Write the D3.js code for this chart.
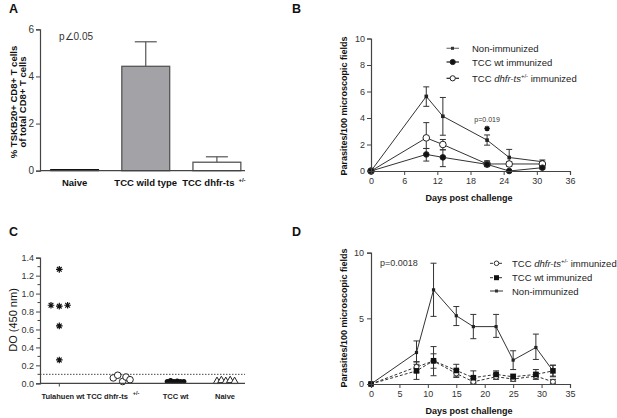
<!DOCTYPE html>
<html><head><meta charset="utf-8">
<script src="https://cdn.jsdelivr.net/npm/d3@7"></script>
<style>
body{margin:0;background:#fff;}
text{font-family:Arial,"Liberation Sans",sans-serif;}
</style></head>
<body><svg id="c" width="617" height="418"></svg>
<script>
// ---------- Panel A data ----------
const aCats = ["Naive","TCC wild type","TCC dhfr-ts"];
const aVals = [0.05, 4.43, 0.36];
const aErr  = [0.0, 1.04, 0.23];
const aTicks = [0,2,4,6];

// ---------- Panel B data ----------
const bDays = [0,10,13,21,25,31];
const bNon  = [0,5.63,4.13,2.33,1.02,0.7];
const bNonLo= [0,4.88,2.7,1.95,0.45,0.6];
const bNonHi= [0,6.35,5.55,2.72,1.63,0.83];
const bWt   = [0,1.25,1.03,0.5,0.0,0.25];
const bWtLo = [0,0.75,0.33,0.35,0.0,0.15];
const bWtHi = [0,1.7,1.6,0.65,0.0,0.35];
const bDh   = [0,2.5,2.0,0.53,0.53,0.53];
const bDhLo = [0,1.7,1.6,0.33,0.35,0.4];
const bDhHi = [0,3.65,2.38,0.77,0.7,0.65];
const bTicksX = [0,6,12,18,24,30,36];
const bTicksY = [0,2,4,6,8,10];

// ---------- Panel C data ----------
const cCats = ["Tulahuen wt","TCC dhfr-ts","TCC wt","Naive"];
const cTul = [1.27,0.87,0.86,0.87,0.64,0.26];
const cTulOff = [0,-1,0,1,0,0];
const cDh  = [0.06,0.09,0.02,0.07,0.04];
const cWt  = [0.02,0.03,0.02,0.025,0.02,0.02];
const cNa  = [0.01,0.02,0.01,0.02,0.01];
const cTicks = [0,0.2,0.4,0.6,0.8,1.0,1.2,1.4];
const cCut = 0.1;

// ---------- Panel D data ----------
const dDays = [0,8,11,15,18,22,25,29,32];
const dNon  = [0,2.4,7.17,5.2,4.37,4.37,1.82,2.78,1.0];
const dNonLo= [0,1.5,5.15,4.45,3.45,3.55,1.1,1.87,0.55];
const dNonHi= [0,3.28,9.2,5.9,5.3,5.3,2.53,3.8,1.43];
const dWt   = [0,1.0,1.77,1.03,0.48,0.73,0.55,0.73,1.0];
const dWtLo = [0,0.35,0.63,0.6,0.1,0.45,0.3,0.45,0.6];
const dWtHi = [0,1.68,2.85,1.5,1.0,1.0,0.76,1.1,1.43];
const dDh   = [0,1.3,1.75,0.8,0.17,0.55,0.38,0.6,0.17];
const dDhLo = [0,0.9,1.2,0.5,0.05,0.35,0.2,0.35,0.05];
const dDhHi = [0,1.7,2.3,1.1,0.4,0.8,0.6,0.85,0.35];
const dTicksX = [0,5,10,15,20,25,30,35];
const dTicksY = [0,5,10];

const svg = d3.select("#c");
const AX = "#444";

function styleAxis(g, fs){
  g.selectAll("path").attr("stroke",AX).attr("stroke-width",1.2);
  g.selectAll("line").attr("stroke",AX).attr("stroke-width",1);
  g.selectAll("text").attr("font-size",fs||9).attr("fill","#333");
}
function errBar(g, x, lo, hi, cap){
  g.append("line").attr("x1",x).attr("x2",x).attr("y1",lo).attr("y2",hi).attr("stroke","#333").attr("stroke-width",1);
  g.append("line").attr("x1",x-cap).attr("x2",x+cap).attr("y1",hi).attr("y2",hi).attr("stroke","#333").attr("stroke-width",1);
  g.append("line").attr("x1",x-cap).attr("x2",x+cap).attr("y1",lo).attr("y2",lo).attr("stroke","#333").attr("stroke-width",1);
}
function asterisk(r){
  let p="";
  for(let k=0;k<4;k++){const a=k*Math.PI/4; const dx=r*Math.cos(a), dy=r*Math.sin(a); p+=`M${-dx},${-dy}L${dx},${dy}`;}
  return p;
}
function letter(t,x,y){ svg.append("text").attr("x",x).attr("y",y).attr("font-size",12.5).attr("font-weight","bold").attr("fill","#111").text(t); }
const fmtInt = d3.format("d");

// ================= Panel A =================
(function(){
  const x = d3.scaleBand().domain(aCats).range([40,251.5]).paddingInner(0.327).paddingOuter(0.15);
  const y = d3.scaleLinear().domain([0,6]).range([170.7,29.3]);
  const g = svg.append("g");
  const fills = ["#111","#a3a3a7","#fff"];
  aCats.forEach((c,i)=>{
    if(aErr[i]>0){
      const cx = x(c)+x.bandwidth()/2;
      g.append("line").attr("x1",cx).attr("x2",cx).attr("y1",y(aVals[i])).attr("y2",y(aVals[i]+aErr[i])).attr("stroke","#555").attr("stroke-width",1.2);
      g.append("line").attr("x1",cx-11).attr("x2",cx+11).attr("y1",y(aVals[i]+aErr[i])).attr("y2",y(aVals[i]+aErr[i])).attr("stroke","#555").attr("stroke-width",1.2);
    }
    g.append("rect").attr("x",x(c)).attr("width",x.bandwidth())
      .attr("y",y(aVals[i])).attr("height",y(0)-y(aVals[i]))
      .attr("fill",fills[i]).attr("stroke",i==0?"#111":"#555").attr("stroke-width",i==0?1:1.3);
  });
  const ya = svg.append("g").attr("transform","translate(40,0)").call(d3.axisLeft(y).tickValues(aTicks).tickSize(4).tickPadding(2).tickFormat(fmtInt));
  styleAxis(ya,10);
  svg.append("line").attr("x1",40).attr("x2",245).attr("y1",170.7).attr("y2",170.7).attr("stroke",AX).attr("stroke-width",1.2);
  aCats.forEach((c,i)=>{
    const t = svg.append("text").attr("x",x(c)+x.bandwidth()/2-(i==2?3:0)).attr("y",185.5).attr("text-anchor","middle")
      .attr("font-size",9.5).attr("font-weight","bold").attr("fill","#111").text(c);
    if(i==2){ t.append("tspan").attr("dx",4).attr("dy",-4).attr("font-size",6).text("+/-"); }
  });
  svg.append("text").attr("transform","translate(16.5,102) rotate(-90)").attr("text-anchor","middle")
    .attr("font-size",9.5).attr("font-weight","bold").attr("fill","#111").text("% TSKB20+ CD8+ T cells");
  svg.append("text").attr("transform","translate(25.5,102) rotate(-90)").attr("text-anchor","middle")
    .attr("font-size",9.5).attr("font-weight","bold").attr("fill","#111").text("of total CD8+ T cells");
  svg.append("text").attr("x",59).attr("y",40).attr("font-size",10).attr("fill","#333").text("p\u22200.05");
  letter("A",9,13);
})();

// ================= Panel B =================
(function(){
  const x = d3.scaleLinear().domain([0,36]).range([371,570]);
  const y = d3.scaleLinear().domain([0,10]).range([171,38.5]);
  const g = svg.append("g");
  const series = [
    {v:bNon,lo:bNonLo,hi:bNonHi,m:"sq"},
    {v:bDh,lo:bDhLo,hi:bDhHi,m:"open"},
    {v:bWt,lo:bWtLo,hi:bWtHi,m:"fill"}
  ];
  series.forEach(s=>{
    bDays.forEach((d,i)=>{ if(s.hi[i]-s.lo[i]>0.05) errBar(g,x(d),y(s.lo[i]),y(s.hi[i]),3); });
  });
  const line = d3.line().x((d,i)=>x(bDays[i])).y(d=>y(d));
  series.forEach(s=>{
    g.append("path").attr("d",line(s.v)).attr("fill","none").attr("stroke","#333").attr("stroke-width",1);
  });
  series.forEach(s=>{
    bDays.forEach((d,i)=>{
      if(s.m=="sq") g.append("rect").attr("x",x(d)-1.8).attr("y",y(s.v[i])-1.8).attr("width",3.6).attr("height",3.6).attr("fill","#222");
      else g.append("circle").attr("cx",x(d)).attr("cy",y(s.v[i])).attr("r",s.m=="open"?3.3:2.8)
        .attr("fill",s.m=="open"?"#fff":"#111").attr("stroke","#222").attr("stroke-width",1);
    });
  });
  const ya = svg.append("g").attr("transform","translate(371,0)").call(d3.axisLeft(y).tickValues(bTicksY).tickSize(4).tickPadding(2).tickFormat(fmtInt));
  styleAxis(ya);
  const xa = svg.append("g").attr("transform","translate(0,171)").call(d3.axisBottom(x).tickValues(bTicksX).tickSize(4).tickPadding(3).tickFormat(fmtInt));
  styleAxis(xa);
  svg.append("text").attr("x",469).attr("y",200.5).attr("text-anchor","middle").attr("font-size",9).attr("font-weight","bold").attr("fill","#111").text("Days post challenge");
  svg.append("text").attr("transform","translate(347,106) rotate(-90)").attr("text-anchor","middle").attr("font-size",9).attr("font-weight","bold").attr("fill","#111").text("Parasites/100 microscopic fields");
  svg.append("text").attr("x",x(21)).attr("y",122).attr("text-anchor","middle").attr("font-size",7).attr("fill","#333").text("p=0.019");
  g.append("path").attr("d",asterisk(2.8)).attr("transform",`translate(${x(21)},128.5)`).attr("stroke","#111").attr("stroke-width",1.3);
  // legend
  const leg = [["Non-immunized","sq"],["TCC wt immunized","fill"],["TCC dhfr-ts","open"]];
  leg.forEach((l,i)=>{
    const yy = [48.3,62,78.3][i];
    g.append("line").attr("x1",446.5).attr("x2",459).attr("y1",yy).attr("y2",yy).attr("stroke",i==0?"#777":"#222").attr("stroke-width",1.2);
    if(l[1]=="sq") g.append("rect").attr("x",451).attr("y",yy-1.5).attr("width",3).attr("height",3).attr("fill","#333");
    else g.append("circle").attr("cx",452.7).attr("cy",yy).attr("r",2.6).attr("fill",l[1]=="open"?"#fff":"#111").attr("stroke","#222");
    const t = svg.append("text").attr("x",472).attr("y",yy+3.5).attr("font-size",9.5).attr("fill","#222");
    if(i<2) t.text(l[0]);
    else { t.text("TCC "); t.append("tspan").attr("font-style","italic").text("dhfr-ts"); t.append("tspan").attr("dy",-4).attr("font-size",6).text("+/-"); t.append("tspan").attr("dy",4).text(" immunized"); }
  });
  letter("B",292,13);
})();

// ================= Panel C =================
(function(){
  const x = d3.scaleOrdinal().domain(cCats).range([59.3,121.5,175.3,225.5]);
  const y = d3.scaleLinear().domain([0,1.4]).range([383.3,257.7]);
  const g = svg.append("g");
  g.append("line").attr("x1",40).attr("x2",245).attr("y1",y(cCut)).attr("y2",y(cCut)).attr("stroke","#333").attr("stroke-width",0.9).attr("stroke-dasharray","1.5,1.5");
  const ya = svg.append("g").attr("transform","translate(40,0)").call(d3.axisLeft(y).tickValues(cTicks).tickSize(4).tickPadding(2).tickFormat(d3.format(".1f")));
  styleAxis(ya);
  d3.range(0.1,1.41,0.2).forEach(m=> svg.append("line").attr("x1",37.5).attr("x2",40).attr("y1",y(m)).attr("y2",y(m)).attr("stroke",AX));
  svg.append("line").attr("x1",40).attr("x2",245).attr("y1",383.3).attr("y2",383.3).attr("stroke",AX).attr("stroke-width",1.2);
  svg.append("line").attr("x1",x(cCats[0])).attr("x2",x(cCats[0])).attr("y1",383.3).attr("y2",386.5).attr("stroke",AX);
  const labX = [63,113,175.7,225];
  cCats.forEach((c,i)=>{
    const t = svg.append("text").attr("x",labX[i]).attr("y",398.5).attr("text-anchor","middle")
      .attr("font-size",7.5).attr("font-weight","bold").attr("fill","#222").text(c);
    if(i==1){ t.append("tspan").attr("dx",5).attr("dy",-4).attr("font-size",5.5).text("+/-"); }
  });
  cTul.forEach((v,i)=>{
    const cx = x(cCats[0]) + cTulOff[i]*8.3;
    g.append("path").attr("d",asterisk(3.3)).attr("transform",`translate(${cx},${y(v)})`).attr("stroke","#111").attr("stroke-width",1.2);
  });
  const dhOff = [-8.2,-3.8,1.2,4.5,8.5];
  cDh.forEach((v,i)=> g.append("circle").attr("cx",x(cCats[1])+dhOff[i]).attr("cy",y(v)).attr("r",3.3).attr("fill","#fff").attr("stroke","#222"));
  cWt.forEach((v,i)=> g.append("circle").attr("cx",x(cCats[2])-8+i*3.3).attr("cy",y(v)).attr("r",2.6).attr("fill","#111"));
  const tri = d3.symbol().type(d3.symbolTriangle).size(24);
  cNa.forEach((v,i)=> g.append("path").attr("d",tri()).attr("transform",`translate(${x(cCats[3])-8.5+i*4.4},${y(v)-1})`).attr("fill","#fff").attr("stroke","#222"));
  svg.append("text").attr("transform","translate(17,320) rotate(-90)").attr("text-anchor","middle").attr("font-size",11).attr("fill","#111").text("DO (450 nm)");
  letter("C",9,236);
})();

// ================= Panel D =================
(function(){
  const x = d3.scaleLinear().domain([0,35]).range([371,570]);
  const y = d3.scaleLinear().domain([0,10]).range([384,252.7]);
  const g = svg.append("g");
  const series = [
    {v:dNon,lo:dNonLo,hi:dNonHi,m:"sq",dash:null},
    {v:dDh,lo:dDhLo,hi:dDhHi,m:"open",dash:"3,2"},
    {v:dWt,lo:dWtLo,hi:dWtHi,m:"fill",dash:"3,2"}
  ];
  series.forEach(s=>{
    dDays.forEach((d,i)=>{ if(i>0) errBar(g,x(d),y(s.lo[i]),y(s.hi[i]),3); });
  });
  const line = d3.line().x((d,i)=>x(dDays[i])).y(d=>y(d));
  series.forEach(s=>{
    g.append("path").attr("d",line(s.v)).attr("fill","none").attr("stroke","#333").attr("stroke-width",1).attr("stroke-dasharray",s.dash);
  });
  series.forEach(s=>{
    dDays.forEach((d,i)=>{
      if(s.m=="sq") g.append("rect").attr("x",x(d)-1.6).attr("y",y(s.v[i])-1.6).attr("width",3.2).attr("height",3.2).attr("fill","#222");
      else if(s.m=="fill") g.append("rect").attr("x",x(d)-2.8).attr("y",y(s.v[i])-2.8).attr("width",5.6).attr("height",5.6).attr("fill","#111");
      else g.append("circle").attr("cx",x(d)).attr("cy",y(s.v[i])).attr("r",2.5).attr("fill","#fff").attr("stroke","#333");
    });
  });
  const ya = svg.append("g").attr("transform","translate(371,0)").call(d3.axisLeft(y).tickValues(dTicksY).tickSize(4).tickPadding(3).tickFormat(fmtInt));
  styleAxis(ya);
  const xa = svg.append("g").attr("transform","translate(0,384)").call(d3.axisBottom(x).tickValues(dTicksX).tickSize(4).tickPadding(3).tickFormat(fmtInt));
  styleAxis(xa);
  svg.append("text").attr("x",469).attr("y",413.5).attr("text-anchor","middle").attr("font-size",9).attr("font-weight","bold").attr("fill","#111").text("Days post challenge");
  svg.append("text").attr("transform","translate(347,318) rotate(-90)").attr("text-anchor","middle").attr("font-size",9).attr("font-weight","bold").attr("fill","#111").text("Parasites/100 microscopic fields");
  svg.append("text").attr("x",380).attr("y",265.5).attr("font-size",9).attr("fill","#333").text("p=0.0018");
  const leg = [["TCC dhfr-ts","open"],["TCC wt immunized","fill"],["Non-immunized","sq"]];
  leg.forEach((l,i)=>{
    const yy = [263.3,277.7,291][i];
    g.append("line").attr("x1",490).attr("x2",503).attr("y1",yy).attr("y2",yy).attr("stroke","#333").attr("stroke-width",1).attr("stroke-dasharray",l[1]=="sq"?null:"3,1.5");
    if(l[1]=="sq") g.append("rect").attr("x",495).attr("y",yy-1.5).attr("width",3).attr("height",3).attr("fill","#333");
    else if(l[1]=="fill") g.append("rect").attr("x",494).attr("y",yy-2.5).attr("width",5).attr("height",5).attr("fill","#111");
    else g.append("circle").attr("cx",496.5).attr("cy",yy).attr("r",2.3).attr("fill","#fff").attr("stroke","#333");
    const t = svg.append("text").attr("x",512).attr("y",yy+3.5).attr("font-size",9.5).attr("fill","#222");
    if(i>0) t.text(l[0]);
    else { t.text("TCC "); t.append("tspan").attr("font-style","italic").text("dhfr-ts"); t.append("tspan").attr("dy",-4).attr("font-size",6).text("+/-"); t.append("tspan").attr("dy",4).text(" immunized"); }
  });
  letter("D",292,236);
})();
</script></body></html>
